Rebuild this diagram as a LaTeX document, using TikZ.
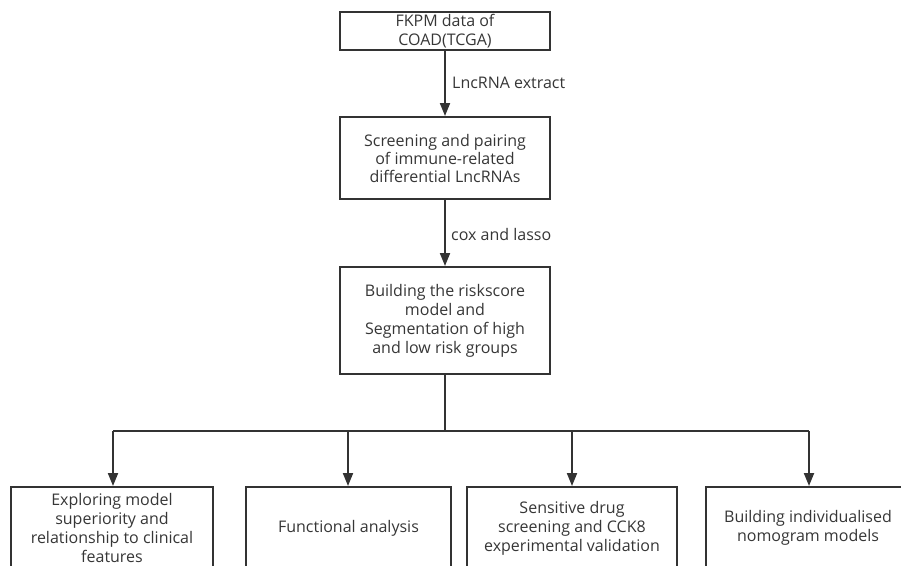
\documentclass[tikz,border=0pt]{standalone}
\usepackage{fontspec}
\setmainfont{Open Sans}
\usetikzlibrary{arrows.meta}
\definecolor{ln}{HTML}{333333}
\definecolor{tx}{HTML}{363636}
\begin{document}
\begin{tikzpicture}[x=1pt,y=-1pt,
 box/.style={draw=ln,line width=2pt,align=center,inner sep=0pt,text=tx,font=\fontsize{16}{19}\selectfont},
 wire/.style={draw=ln,line width=2pt},
 conn/.style={wire,-{Triangle[length=13pt,width=10pt]}},
 lbl/.style={anchor=west,text=tx,font=\fontsize{16}{19}\selectfont,inner sep=0pt}]
\useasboundingbox (0,0) rectangle (901,565);
\clip (0,0) rectangle (901,565);
\node[box,minimum width=210pt,minimum height=38pt] (a) at (445,31) {FKPM data of\\COAD(TCGA)};
\node[box,minimum width=210pt,minimum height=82pt,font=\fontsize{16}{18}\selectfont] (b) at (445,158) {Screening and pairing\\of immune-related\\differential LncRNAs};
\node[box,minimum width=210pt,minimum height=107pt] (c) at (445,320.5) {Building the riskscore\\model and\\Segmentation of high\\and low risk groups};
\node[box,minimum width=202pt,minimum height=82pt] (d1) at (112,528) {Exploring model\\superiority and\\relationship to clinical\\features};
\node[box,minimum width=205pt,minimum height=82pt] (d2) at (348.5,528) {Functional analysis};
\node[box,minimum width=210pt,minimum height=82pt] (d3) at (572,528) {Sensitive drug\\screening and CCK8\\experimental validation};
\node[box,minimum width=204pt,minimum height=82pt] (d4) at (808,528) {Building individualised\\nomogram models};
\draw[conn] (a) -- (b);
\draw[conn] (b) -- (c);
\node[lbl] (l1) at (452,83) {LncRNA extract};
\node[lbl] (l2) at (451,234) {cox and lasso};
\coordinate (j1) at (113,431);
\coordinate (j2) at (348,431);
\coordinate (j3) at (572,431);
\coordinate (j4) at (809,431);
\draw[wire] (c.south) -- (c.south |- j1);
\draw[wire] (j1) -- (j4);
\draw[conn] (j1) -- (j1 |- d1.north);
\draw[conn] (j2) -- (j2 |- d2.north);
\draw[conn] (j3) -- (j3 |- d3.north);
\draw[conn] (j4) -- (j4 |- d4.north);
\end{tikzpicture}
\end{document}
